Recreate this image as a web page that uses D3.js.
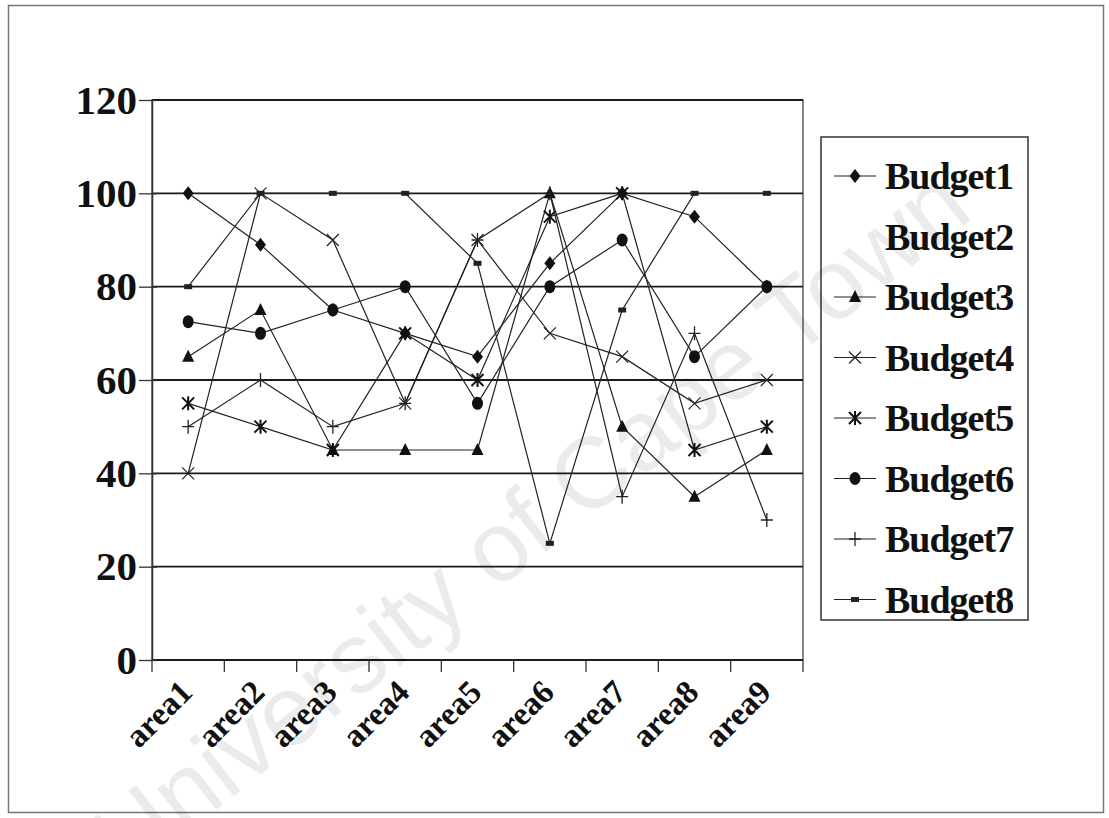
<!DOCTYPE html>
<html>
<head>
<meta charset="utf-8">
<script src="https://cdn.jsdelivr.net/npm/d3@7"></script>
<style>
  body { margin: 0; background: #fff; }
  text { font-family: "Liberation Serif", "Times New Roman", serif; font-weight: bold; fill: #111; }
</style>
</head>
<body>
<svg width="1109" height="818"></svg>
<script>
var areas = ["area1", "area2", "area3", "area4", "area5", "area6", "area7", "area8", "area9"];
var yTicks = [0, 20, 40, 60, 80, 100, 120];

var budget1 = [100, 89, 75, 70, 65, 85, 100, 95, 80];
var budget2 = [];  // no line or marker visible in the picture
var budget3 = [65, 75, 45, 45, 45, 100, 50, 35, 45];
var budget4 = [40, 100, 90, 55, 90, 70, 65, 55, 60];
var budget5 = [55, 50, 45, 70, 60, 95, 100, 45, 50];
var budget6 = [72.5, 70, 75, 80, 55, 80, 90, 65, 80];
var budget7 = [50, 60, 50, 55, 90, 100, 35, 70, 30];
var budget8 = [80, 100, 100, 100, 85, 25, 75, 100, 100];

var seriesNames = ["Budget1", "Budget2", "Budget3", "Budget4", "Budget5", "Budget6", "Budget7", "Budget8"];
var seriesValues = [budget1, budget2, budget3, budget4, budget5, budget6, budget7, budget8];
var seriesMarks = ["diamond", "none", "triangle", "cross", "star", "circle", "plus", "dash"];

var width = 1109, height = 818;
var plot = {left: 152, right: 803, top: 100, bottom: 660};

var svg = d3.select("svg");

var x = d3.scaleBand().domain(areas).range([plot.left, plot.right]);
var y = d3.scaleLinear().domain([0, 120]).range([plot.bottom, plot.top]);

function cx(d, i) { return x(areas[i]) + x.bandwidth() / 2; }

// outer frame
svg.append("rect")
  .attr("x", 8.5).attr("y", 5.5)
  .attr("width", width - 14).attr("height", height - 11)
  .attr("fill", "none").attr("stroke", "#777").attr("stroke-width", 1.5);

// plot frame and gridlines
svg.append("rect")
  .attr("x", plot.left).attr("y", plot.top)
  .attr("width", plot.right - plot.left).attr("height", plot.bottom - plot.top)
  .attr("fill", "none").attr("stroke", "#444").attr("stroke-width", 1.3);

svg.selectAll(".grid")
  .data(yTicks)
  .enter()
  .append("line")
  .attr("class", "grid")
  .attr("x1", plot.left).attr("x2", plot.right)
  .attr("y1", y).attr("y2", y)
  .attr("stroke", "#1a1a1a").attr("stroke-width", 1.8);

// y axis
var axisLeft = d3.axisLeft(y).tickValues(yTicks).tickSizeInner(13).tickSizeOuter(0).tickPadding(3);
var gy = svg.append("g")
  .attr("transform", "translate(" + plot.left + ",0)")
  .call(axisLeft);
gy.select(".domain").attr("stroke", "#333").attr("stroke-width", 1.5);
gy.selectAll(".tick line").attr("stroke", "#333").attr("stroke-width", 1.3).attr("x2", -13).attr("x1", 5);
gy.selectAll(".tick text")
  .attr("x", -15)
  .attr("font-size", 41)
  .attr("font-family", "Liberation Serif")
  .attr("font-weight", "bold")
  .attr("fill", "#111");

// x axis: ticks sit on the band edges
var edges = d3.range(areas.length + 1).map(function (i) { return plot.left + i * x.step(); });
svg.selectAll(".xtick")
  .data(edges)
  .enter()
  .append("line")
  .attr("x1", function (d) { return d; }).attr("x2", function (d) { return d; })
  .attr("y1", plot.bottom).attr("y2", plot.bottom + 12)
  .attr("stroke", "#333").attr("stroke-width", 1.3);

svg.selectAll(".xlabel")
  .data(areas)
  .enter()
  .append("text")
  .attr("text-anchor", "end")
  .attr("font-size", 33)
  .attr("transform", function (d) {
    return "translate(" + (x(d) + x.bandwidth() / 2 + 6) + "," + (plot.bottom + 34) + ") rotate(-45)";
  })
  .text(function (d) { return d; });

// markers
function drawMark(g, kind, px, py) {
  if (kind === "diamond") {
    g.append("path").attr("d", "M" + px + "," + (py - 7) + "L" + (px + 5.5) + "," + py + "L" + px + "," + (py + 7) + "L" + (px - 5.5) + "," + py + "Z")
      .attr("fill", "#111");
  } else if (kind === "triangle") {
    g.append("path").attr("d", "M" + px + "," + (py - 7) + "L" + (px + 6) + "," + (py + 5) + "L" + (px - 6) + "," + (py + 5) + "Z")
      .attr("fill", "#111");
  } else if (kind === "circle") {
    g.append("ellipse").attr("cx", px).attr("cy", py).attr("rx", 5.5).attr("ry", 6.5).attr("fill", "#111");
  } else if (kind === "cross") {
    g.append("path").attr("d", "M" + (px - 6) + "," + (py - 6) + "L" + (px + 6) + "," + (py + 6) + "M" + (px + 6) + "," + (py - 6) + "L" + (px - 6) + "," + (py + 6))
      .attr("stroke", "#222").attr("stroke-width", 1.2);
  } else if (kind === "star") {
    g.append("path").attr("d", "M" + (px - 6) + "," + (py - 6) + "L" + (px + 6) + "," + (py + 6) + "M" + (px + 6) + "," + (py - 6) + "L" + (px - 6) + "," + (py + 6) + "M" + px + "," + (py - 7) + "L" + px + "," + (py + 7))
      .attr("stroke", "#111").attr("stroke-width", 2);
  } else if (kind === "plus") {
    g.append("path").attr("d", "M" + (px - 6) + "," + py + "L" + (px + 6) + "," + py + "M" + px + "," + (py - 7) + "L" + px + "," + (py + 7))
      .attr("stroke", "#222").attr("stroke-width", 1.3);
  } else if (kind === "dash") {
    g.append("rect").attr("x", px - 4).attr("y", py - 2.5).attr("width", 8).attr("height", 5).attr("fill", "#222");
  }
}

var line = d3.line()
  .x(cx)
  .y(function (d) { return y(d); });

seriesValues.forEach(function (vals, k) {
  if (!vals.length) return;
  var g = svg.append("g").attr("class", "series");
  g.append("path")
    .datum(vals)
    .attr("d", line)
    .attr("fill", "none")
    .attr("stroke", "#222")
    .attr("stroke-width", 1.2);
  vals.forEach(function (v, i) {
    drawMark(g, seriesMarks[k], cx(v, i), y(v));
  });
});

// legend
var legend = svg.append("g");
legend.append("rect")
  .attr("x", 821).attr("y", 137)
  .attr("width", 207).attr("height", 483)
  .attr("fill", "#fff").attr("stroke", "#333").attr("stroke-width", 1.5);

seriesNames.forEach(function (name, k) {
  var ly = 176 + k * 60.5;
  if (seriesMarks[k] !== "none") {
    legend.append("line")
      .attr("x1", 834).attr("x2", 876)
      .attr("y1", ly).attr("y2", ly)
      .attr("stroke", "#222").attr("stroke-width", 1.2);
    drawMark(legend, seriesMarks[k], 855, ly);
  }
  legend.append("text")
    .attr("x", 885).attr("y", ly)
    .attr("dy", "0.35em")
    .attr("font-size", 38)
    .attr("letter-spacing", -1)
    .text(name);
});

// watermark
svg.append("text")
  .attr("transform", "translate(530,520) rotate(-38)")
  .attr("text-anchor", "middle")
  .attr("dy", "0.35em")
  .style("font-family", "'Liberation Sans', Arial, sans-serif")
  .style("font-weight", "normal")
  .style("fill", "#000")
  .style("fill-opacity", 0.08)
  .attr("font-size", 100)
  .text("University of Cape Town");
</script>
</body>
</html>
